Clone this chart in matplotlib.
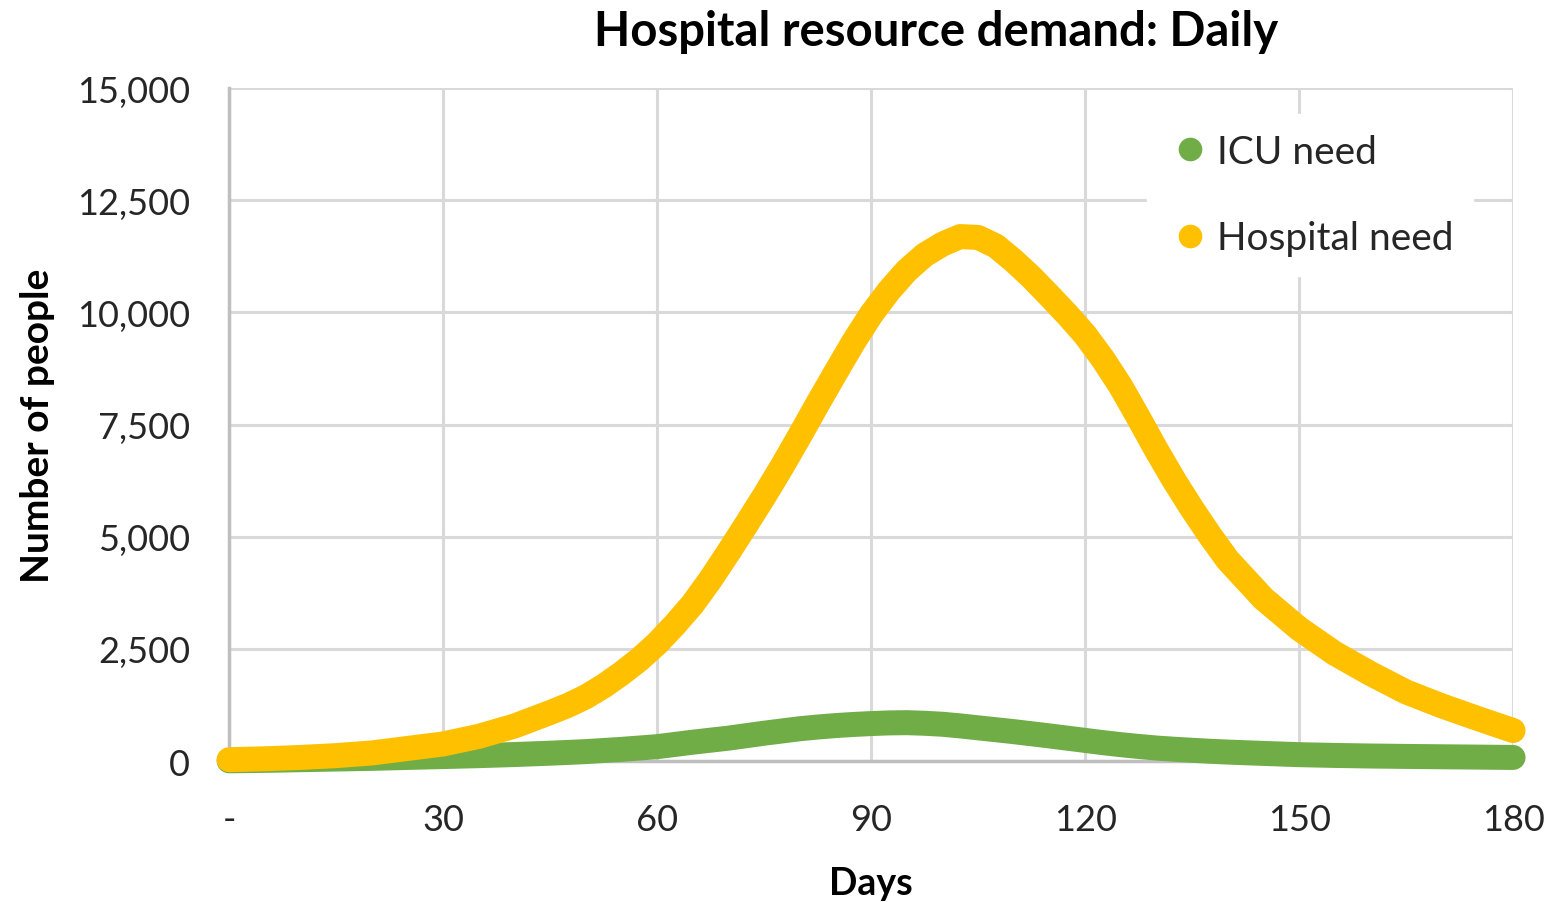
import matplotlib.pyplot as plt
from matplotlib.lines import Line2D
from matplotlib.ticker import FuncFormatter

plt.rcParams['font.family'] = ['Lato', 'DejaVu Sans']

# values (every 5 days, every 2.5 days around the peak)
days = [0, 5, 10, 15, 20, 25, 30, 35, 40, 45, 47.5, 50, 52.5, 55, 57.5, 60, 62.5,
        65, 67.5, 70, 72.5, 75, 77.5, 80, 82.5, 85, 87.5, 90, 92.5, 95, 97.5, 100,
        102.5, 105, 107.5, 110, 112.5, 115, 117.5, 120, 122.5, 125, 127.5, 130,
        132.5, 135, 137.5, 140, 145, 150, 155, 160, 165, 170, 175, 180]

icu_need = [5, 15, 30, 45, 60, 80, 100, 120, 145, 175, 192, 210, 235, 260, 290,
            320, 370, 420, 465, 510, 565, 620, 670, 720, 758, 790, 815, 835, 850,
            855, 842, 820, 783, 740, 698, 655, 608, 560, 510, 460, 410, 365, 325,
            290, 263, 240, 218, 200, 170, 142, 125, 112, 103, 95, 88, 80]

hospital_need = [30, 50, 80, 120, 180, 280, 380, 550, 780, 1080, 1240, 1430, 1670,
                 1950, 2260, 2620, 3040, 3500, 4050, 4650, 5270, 5900, 6560, 7250,
                 7960, 8650, 9330, 9950, 10480, 10930, 11280, 11520, 11690, 11670,
                 11480, 11150, 10780, 10370, 9950, 9500, 8960, 8350, 7650, 6930,
                 6250, 5620, 5030, 4480, 3620, 2950, 2400, 1950, 1540, 1230, 950, 680]

x_ticks = [0, 30, 60, 90, 120, 150, 180]
y_ticks = [0, 2500, 5000, 7500, 10000, 12500, 15000]

green = '#70AD47'
yellow = '#FFC000'
txt = '#262626'

fig = plt.figure(figsize=(15.53, 9.03), dpi=100)
ax = fig.add_axes([0.1475, 0.1561, 0.8268, 0.7453])

ax.plot(days, icu_need, color=green, lw=18, solid_capstyle='round',
        solid_joinstyle='round', zorder=3, clip_on=False)
ax.plot(days, hospital_need, color=yellow, lw=18, solid_capstyle='round',
        solid_joinstyle='round', zorder=4, clip_on=False)

ax.set_xlim(0, 180)
ax.set_ylim(0, 15000)
ax.set_xticks(x_ticks)
ax.set_yticks(y_ticks)
ax.xaxis.set_major_formatter(FuncFormatter(lambda v, p: '-' if v == 0 else f'{int(v)}'))
ax.yaxis.set_major_formatter(FuncFormatter(lambda v, p: f'{int(v):,}'))
ax.tick_params(length=0, labelsize=26, colors=txt)
ax.tick_params(axis='x', pad=30)
ax.tick_params(axis='y', pad=28)

ax.grid(True, color='#d9d9d9', lw=2.2)
ax.set_axisbelow(True)
for s in ['top', 'right']:
    ax.spines[s].set_visible(False)
ax.spines['left'].set_color('#bfbfbf')
ax.spines['bottom'].set_color('#bfbfbf')
ax.spines['left'].set_linewidth(2.5)
ax.spines['bottom'].set_linewidth(2.5)

# title sits right of the axes centre in the original
fig.text(0.603, 0.965, 'Hospital resource demand: Daily', fontsize=34,
         fontweight='bold', color='black', ha='center', va='center')
ax.set_xlabel('Days', fontsize=27, fontweight='bold', color='black', labelpad=22)
ax.set_ylabel('Number of people', fontsize=28, fontweight='bold', color='black',
              labelpad=16)

handles = [Line2D([], [], ls='none', marker='o', ms=16, color=green),
           Line2D([], [], ls='none', marker='o', ms=16, color=yellow)]
leg = ax.legend(handles, ['ICU need', 'Hospital need'], loc='upper right',
                bbox_to_anchor=(0.984, 0.99), fontsize=28, frameon=True,
                fancybox=False, edgecolor='white', framealpha=1,
                labelspacing=1.3, handletextpad=0.1, handlelength=1.2,
                borderpad=0.5)
for t in leg.get_texts():
    t.set_color(txt)

fig.savefig('out.png', dpi=100)
